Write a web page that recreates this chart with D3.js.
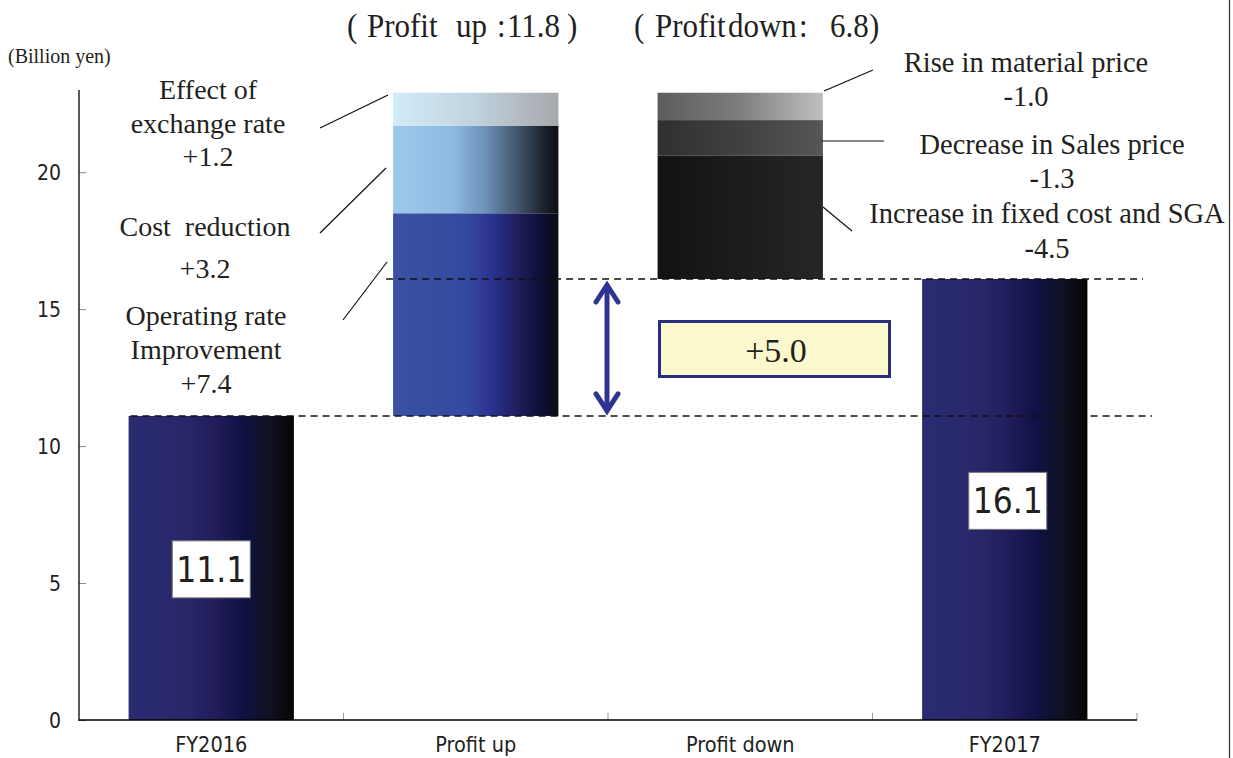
<!DOCTYPE html>
<html>
<head>
<meta charset="utf-8">
<script src="https://cdn.jsdelivr.net/npm/d3@7"></script>
<style>
  html, body { margin: 0; padding: 0; background: #fff; }
  svg { display: block; }
  .serif { font-family: "Liberation Serif", "Times New Roman", "DejaVu Serif", serif; fill: #231f20; }
  .gothic { font-family: "Liberation Sans Narrow", "DejaVu Sans Condensed", "Noto Sans CJK JP", sans-serif; font-stretch: condensed; fill: #231f20; }
</style>
</head>
<body>
<svg id="chart" width="1233" height="758"></svg>
<script>
// ---------- data ----------
const categories = ["FY2016", "Profit up", "Profit down", "FY2017"];
const totals = [11.1, 16.1];                       // FY2016, FY2017
const upLabels = ["Operating rate Improvement", "Cost reduction", "Effect of exchange rate"];
const upValues = [7.4, 3.2, 1.2];
const downLabels = ["Rise in material price", "Decrease in Sales price", "Increase in fixed cost and SGA"];
const downValues = [-1.0, -1.3, -4.5];
const yTicks = [0, 5, 10, 15, 20];
const profitUpTotal = 11.8;
const profitDownTotal = 6.8;
const netChange = 5.0;

// ---------- setup ----------
const svg = d3.select("#chart");
const W = 1233, H = 758;
const plotBottom = 720;

const x = d3.scaleBand().domain(categories).range([79, 1137])
  .paddingInner(0.375).paddingOuter(0.1875);
const y = d3.scaleLinear().domain([0, 23]).range([plotBottom, 90]);

const defs = svg.append("defs");
function grad(id, stops) {
  const g = defs.append("linearGradient").attr("id", id)
    .attr("x1", "0%").attr("x2", "100%").attr("y1", "0%").attr("y2", "0%");
  stops.forEach(([o, c]) => g.append("stop").attr("offset", o).attr("stop-color", c));
}
grad("gTotal", [[0, "#2a2b72"], [0.35, "#282868"], [0.55, "#1f1b58"], [0.7, "#0e1242"], [0.85, "#111122"], [1, "#050505"]]);
grad("gUp0", [[0, "#3a52a2"], [0.45, "#3449a0"], [0.6, "#2b3290"], [0.78, "#1e1a55"], [0.9, "#0c0f35"], [1, "#0b0b14"]]);
grad("gUp1", [[0, "#9cc9ea"], [0.35, "#8fbae3"], [0.55, "#6f93b9"], [0.75, "#43566d"], [0.9, "#1e2630"], [1, "#0c0f12"]]);
grad("gUp2", [[0, "#d2ecfa"], [0.5, "#bfd2de"], [1, "#a7a8aa"]]);
grad("gDn0", [[0, "#5c5c5c"], [0.5, "#7e7e7e"], [1, "#bfbfbf"]]);
grad("gDn1", [[0, "#2f2f2f"], [0.5, "#414141"], [1, "#565656"]]);
grad("gDn2", [[0, "#111313"], [0.5, "#1c1c1c"], [1, "#262626"]]);

// right frame line
svg.append("line").attr("x1", 1229.5).attr("x2", 1229.5).attr("y1", 0).attr("y2", H)
  .attr("stroke", "#333").attr("stroke-width", 1.2);

// ---------- axes ----------
const yAxis = svg.append("g").attr("transform", "translate(79,0)")
  .call(d3.axisRight(y).tickValues(yTicks).tickSize(7).tickFormat(""));
yAxis.select(".domain").remove();
yAxis.selectAll(".tick line").attr("stroke", "#888");
svg.append("line").attr("x1", 79).attr("x2", 79).attr("y1", y(23)).attr("y2", plotBottom + 1)
  .attr("stroke", "#000").attr("stroke-width", 1.3);
svg.selectAll(".ytl").data(yTicks).join("text").attr("class", "gothic ytl")
  .attr("x", 61).attr("y", d => y(d)).attr("dy", "0.36em")
  .attr("text-anchor", "end").attr("font-size", 21)
  .text(d => d);

// x ticks at band boundaries
const bounds = [1, 2, 3].map(i => x(categories[i]) - x.step() * x.paddingInner() / 2);
bounds.push(1137);
svg.selectAll(".xt").data(bounds).join("line").attr("class", "xt")
  .attr("x1", d => d).attr("x2", d => d).attr("y1", plotBottom).attr("y2", plotBottom - 7)
  .attr("stroke", "#999").attr("stroke-width", 1);

// ---------- bars ----------
const bw = x.bandwidth();
svg.selectAll(".tot").data([[categories[0], totals[0]], [categories[3], totals[1]]]).join("rect")
  .attr("class", "tot").attr("x", d => x(d[0])).attr("width", bw)
  .attr("y", d => y(d[1])).attr("height", d => y(0) - y(d[1]))
  .attr("fill", "url(#gTotal)");

let acc = totals[0];
const upSegs = upValues.map((v, i) => { const s = { y0: acc, y1: acc + v, i }; acc += v; return s; });
svg.selectAll(".up").data(upSegs).join("rect").attr("class", "up")
  .attr("x", x(categories[1])).attr("width", bw)
  .attr("y", d => y(d.y1)).attr("height", d => y(d.y0) - y(d.y1))
  .attr("fill", d => `url(#gUp${d.i})`);

let level = acc;
const dnSegs = downValues.map((v, i) => { const s = { y0: level + v, y1: level, i }; level += v; return s; });
svg.selectAll(".dn").data(dnSegs).join("rect").attr("class", "dn")
  .attr("x", x(categories[2])).attr("width", bw)
  .attr("y", d => y(d.y1)).attr("height", d => y(d.y0) - y(d.y1))
  .attr("fill", d => `url(#gDn${d.i})`);

svg.append("line").attr("x1", 79).attr("x2", 1137).attr("y1", plotBottom).attr("y2", plotBottom)
  .attr("stroke", "#000").attr("stroke-width", 1.3);

svg.selectAll(".xl").data(categories).join("text").attr("class", "gothic xl")
  .attr("x", d => x(d) + bw / 2).attr("y", 752)
  .attr("text-anchor", "middle").attr("font-size", 21.5).text(d => d);

// ---------- dashed reference lines ----------
svg.append("line").attr("x1", x(categories[0]) + 2).attr("x2", 1152)
  .attr("y1", y(totals[0])).attr("y2", y(totals[0]))
  .attr("stroke", "#111").attr("stroke-width", 1.4).attr("stroke-dasharray", "7,5");
svg.append("line").attr("x1", x(categories[1]) - 7).attr("x2", 1143)
  .attr("y1", y(totals[1])).attr("y2", y(totals[1]))
  .attr("stroke", "#111").attr("stroke-width", 1.4).attr("stroke-dasharray", "7,5");

// ---------- value boxes ----------
function valueBox(cx, cy, txt) {
  svg.append("rect").attr("x", cx - 39).attr("y", cy - 28.5).attr("width", 78).attr("height", 57)
    .attr("fill", "#fff").attr("stroke", "#777").attr("stroke-width", 1);
  svg.append("text").attr("class", "gothic").attr("x", cx).attr("y", cy).attr("dy", "0.36em")
    .attr("text-anchor", "middle").attr("font-size", 35).text(txt);
}
valueBox(x(categories[0]) + bw / 2, y(5.5), totals[0].toFixed(1));
valueBox(x(categories[3]) + bw / 2 + 3, y(8.0), totals[1].toFixed(1));

// ---------- double arrow ----------
const ax = 607;
const arrowCol = "#2f3391";
const ay1 = y(totals[1]) + 4, ay2 = y(totals[0]) - 3;
svg.append("line").attr("x1", ax).attr("x2", ax).attr("y1", ay1 + 2).attr("y2", ay2 - 2)
  .attr("stroke", arrowCol).attr("stroke-width", 5);
svg.append("path").attr("d", `M${ax - 11},${ay1 + 19} L${ax},${ay1 + 2} L${ax + 11},${ay1 + 19}`)
  .attr("fill", "none").attr("stroke", arrowCol).attr("stroke-width", 5)
  .attr("stroke-linecap", "round").attr("stroke-linejoin", "miter");
svg.append("path").attr("d", `M${ax - 11},${ay2 - 19} L${ax},${ay2 - 2} L${ax + 11},${ay2 - 19}`)
  .attr("fill", "none").attr("stroke", arrowCol).attr("stroke-width", 5)
  .attr("stroke-linecap", "round").attr("stroke-linejoin", "miter");

svg.append("rect").attr("x", 659.5).attr("y", 321.5).attr("width", 230).attr("height", 55)
  .attr("fill", "#fcf8cd").attr("stroke", "#2a2c7c").attr("stroke-width", 3);
svg.append("text").attr("class", "serif").attr("x", 776).attr("y", 362)
  .attr("text-anchor", "middle").attr("font-size", 34).text("+" + netChange.toFixed(1));

// ---------- annotations ----------
svg.append("text").attr("class", "serif").attr("x", 8).attr("y", 63).attr("font-size", 20).text("(Billion yen)");

function pieces(yb, size, parts) {
  const t = svg.append("text").attr("class", "serif")
    .attr("transform", `translate(0,${yb}) scale(1,1.12)`).attr("font-size", size);
  parts.forEach(([s, px]) => t.append("tspan").attr("x", px).attr("y", 0).text(s));
}
pieces(37, 31, [["(", 347], ["Profit", 367], ["up", 456], [":", 497], [profitUpTotal.toFixed(1), 507], [")", 567]]);
pieces(37, 31, [["(", 634], ["Profit", 655], ["down", 728], [":", 799], [profitDownTotal.toFixed(1), 830], [")", 869]]);

function multi(cx, ys, lines, size) {
  lines.forEach((t, i) => svg.append("text").attr("class", "serif").attr("x", cx).attr("y", ys[i])
    .attr("text-anchor", "middle").attr("font-size", size).attr("xml:space", "preserve").text(t));
}
const fmt = v => (v > 0 ? "+" : "") + v.toFixed(1);
multi(208, [99, 133, 166], ["Effect of", "exchange rate", fmt(upValues[2])], 28);
multi(205, [236, 278], ["Cost  reduction", fmt(upValues[1])], 28);
multi(206, [325, 359, 393], ["Operating rate", "Improvement", fmt(upValues[0])], 28);

multi(1026, [72, 106], [downLabels[0], fmt(downValues[0])], 28.5);
multi(1052, [154, 188], [downLabels[1], fmt(downValues[1])], 28.5);
multi(1047, [223, 258], [downLabels[2], fmt(downValues[2])], 28.5);

const leaders = [
  [320, 128, 388, 95], [320, 233, 386, 168], [343, 320, 387, 262],
  [824, 91, 873, 70], [822, 141, 884, 141], [823, 207, 852, 231]
];
svg.selectAll(".ld").data(leaders).join("line").attr("class", "ld")
  .attr("x1", d => d[0]).attr("y1", d => d[1]).attr("x2", d => d[2]).attr("y2", d => d[3])
  .attr("stroke", "#111").attr("stroke-width", 1.2);
</script>
</body>
</html>
